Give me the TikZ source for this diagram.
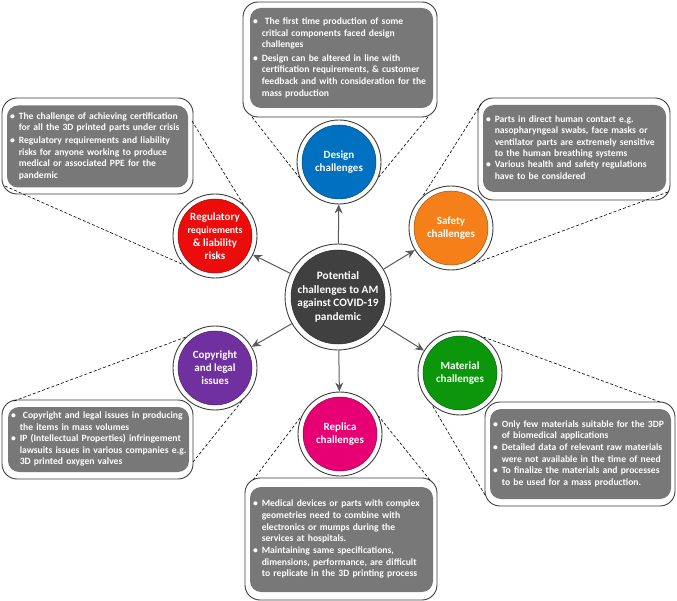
\documentclass[tikz,border=0pt]{standalone}
\usepackage{fontspec}
\setmainfont{Carlito}
\usetikzlibrary{arrows.meta,calc}
\definecolor{cdesign}{RGB}{0,112,192}
\definecolor{csafety}{RGB}{245,128,25}
\definecolor{creg}{RGB}{235,12,12}
\definecolor{ccopy}{RGB}{112,48,160}
\definecolor{cmat}{RGB}{12,150,12}
\definecolor{crep}{RGB}{230,0,115}
\definecolor{ccenter}{RGB}{64,64,64}
\definecolor{boxgray}{RGB}{120,120,120}
\definecolor{ringline}{RGB}{60,60,60}
\definecolor{arrgray}{RGB}{90,90,90}
\newcommand\bxfont[1]{\fontsize{9.6}{#1}\selectfont\bfseries}
\newenvironment{blist}{\begin{tabular}{@{}l@{\hspace{4pt}}l@{}}}{\end{tabular}}
\tikzset{
  ring/.style={circle, draw=ringline, line width=0.9pt, fill=white, minimum size=84pt,
    inner sep=0pt, text=white, align=center, font=\bfseries\fontsize{11}{13}\selectfont,
    path picture={\filldraw[fill=#1, draw=#1!65!black, line width=0.5pt]
      (path picture bounding box.center) circle (37pt);}},
  bigring/.style={circle, draw=ringline, line width=0.9pt, fill=white, minimum size=106pt,
    inner sep=0pt, text=white, align=center, font=\bfseries\fontsize{11.3}{13.5}\selectfont,
    path picture={\filldraw[fill=#1, draw=#1!65!black, line width=0.5pt]
      (path picture bounding box.center) circle (47pt);}},
  obox/.style={draw=ringline, line width=0.9pt, fill=white, rounded corners=15pt, inner sep=0pt},
  ibox/.style={fill=boxgray, rounded corners=11pt, text=white, align=left, inner xsep=3pt, inner ysep=0pt},
  arr/.style={draw=arrgray, line width=1pt, -{Stealth[length=9pt,width=8pt]}},
  dsh/.style={black, line width=0.6pt, dash pattern=on 3pt off 2pt}
}
\begin{document}
\begin{tikzpicture}[x=1pt,y=-1pt]
\useasboundingbox (0,0) rectangle (677,601);

% ---------- boxes ----------
\node[obox, minimum width=194, minimum height=115] (dbox) at (340,59.5) {};
\node[ibox, minimum width=183, minimum height=100, text width=177, font={\bxfont{11.7}}] (dtxt) at (341.5,58) {%
\begin{blist}
\textbullet & \ The first time production of some\\
 & critical components faced design\\
 & challenges\\[1.5pt]
\textbullet & Design can be altered in line with\\
 & certification requirements, \& customer\\
 & feedback and with consideration for the\\
 & mass production
\end{blist}};

\node[obox, minimum width=191, minimum height=96] (rbox) at (97.5,146) {};
\node[ibox, minimum width=181, minimum height=82, text width=175, font={\bxfont{11.5}}] (rtxt) at (97.5,146.5) {%
\begin{blist}
\textbullet & The challenge of achieving certification\\
 & for all the 3D printed parts under crisis\\[1.5pt]
\textbullet & Regulatory requirements and liability\\
 & risks for anyone working to produce\\
 & medical or associated PPE for the\\
 & pandemic
\end{blist}};

\node[obox, minimum width=192, minimum height=102] (sbox) at (574,149) {};
\node[ibox, minimum width=183, minimum height=87, text width=177, font={\bxfont{11.4}}] (stxt) at (574.5,148.5) {%
\begin{blist}
\textbullet & Parts in direct human contact e.g.\\
 & nasopharyngeal swabs, face masks or\\
 & ventilator parts are extremely sensitive\\
 & to the human breathing systems\\
\textbullet & Various health and safety regulations\\
 & have to be considered
\end{blist}};

\node[obox, minimum width=191, minimum height=79] (cbox) at (97.5,439.5) {};
\node[ibox, minimum width=181, minimum height=65, text width=175, font={\bxfont{11.5}}] (ctxt) at (98.5,439.5) {%
\begin{blist}
\textbullet & \ Copyright and legal issues in producing\\
 & the items in mass volumes\\
\textbullet & IP (Intellectual Properties) infringement\\
 & lawsuits issues in various companies e.g.\\
 & 3D printed oxygen valves
\end{blist}};

\node[obox, minimum width=190, minimum height=104] (mbox) at (580,454) {};
\node[ibox, minimum width=181, minimum height=90, text width=175, font={\bxfont{11.6}}] (mtxt) at (580.5,454) {%
\begin{blist}
\textbullet & Only few materials suitable for the 3DP\\
 & of biomedical applications\\
\textbullet & Detailed data of relevant raw materials\\
 & were not available in the time of need\\
\textbullet & To finalize the materials and processes\\
 & to be used for a mass production.
\end{blist}};

\node[obox, minimum width=192, minimum height=122] (pbox) at (341,539) {};
\node[ibox, minimum width=183, minimum height=105, text width=177, font={\bxfont{11.7}}] (ptxt) at (341.5,539.5) {%
\begin{blist}
\textbullet & Medical devices or parts with complex\\
 & geometries need to combine with\\
 & electronics or mumps during the\\
 & services at hospitals.\\
\textbullet & Maintaining same specifications,\\
 & dimensions, performance, are difficult\\
 & to replicate in the 3D printing process
\end{blist}};

% ---------- circles ----------
\node[bigring=ccenter] (cc) at (338,297) {Potential\\challenges to AM\\against COVID-19\\pandemic};
\node[ring=cdesign] (dc) at (339,162) {Design\\challenges};
\node[ring=csafety] (sc) at (451,228) {Safety\\challenges};
\node[ring=creg] (rc) at (215,236) {Regulatory\\{\fontsize{9.8}{12.5}\selectfont requirements}\\\& liability\\risks};
\node[ring=ccopy] (cpc) at (215,368) {Copyright\\and legal\\issues};
\node[ring=cmat] (mc) at (460,373) {Material\\challenges};
\node[ring=crep] (pc) at (340,434) {Replica\\challenges};

% ---------- arrows ----------
\foreach \t in {dc,sc,rc,cpc,mc,pc} \draw[arr] (cc) -- (\t);

% ---------- dashed call-out lines ----------
\coordinate (d1) at (252,117);  \coordinate (d2) at (428,117);
\coordinate (r1) at (192,121);  \coordinate (r2) at (5,186);
\coordinate (s1) at (481,104);  \coordinate (s2) at (668,192);
\coordinate (c1) at (14,401);   \coordinate (c2) at (193,462);
\coordinate (m1) at (660,402);  \coordinate (m2) at (485,495);
\coordinate (p1) at (253,480);  \coordinate (p2) at (430,480);
\draw[dsh] (d1) -- (dc.202);
\draw[dsh] (d2) -- (dc.339);
\draw[dsh] (r1) -- (rc.48);
\draw[dsh] (r2) -- (rc.223);
\draw[dsh] (s1) -- (sc.132);
\draw[dsh] (s2) -- (sc.303);
\draw[dsh] (c1) -- (cpc.133);
\draw[dsh] (c2) -- (cpc.310);
\draw[dsh] (m1) -- (mc.60);
\draw[dsh] (m2) -- (mc.229);
\draw[dsh] (p1) -- (pc.155);
\draw[dsh] (p2) -- (pc.25);
\end{tikzpicture}
\end{document}
